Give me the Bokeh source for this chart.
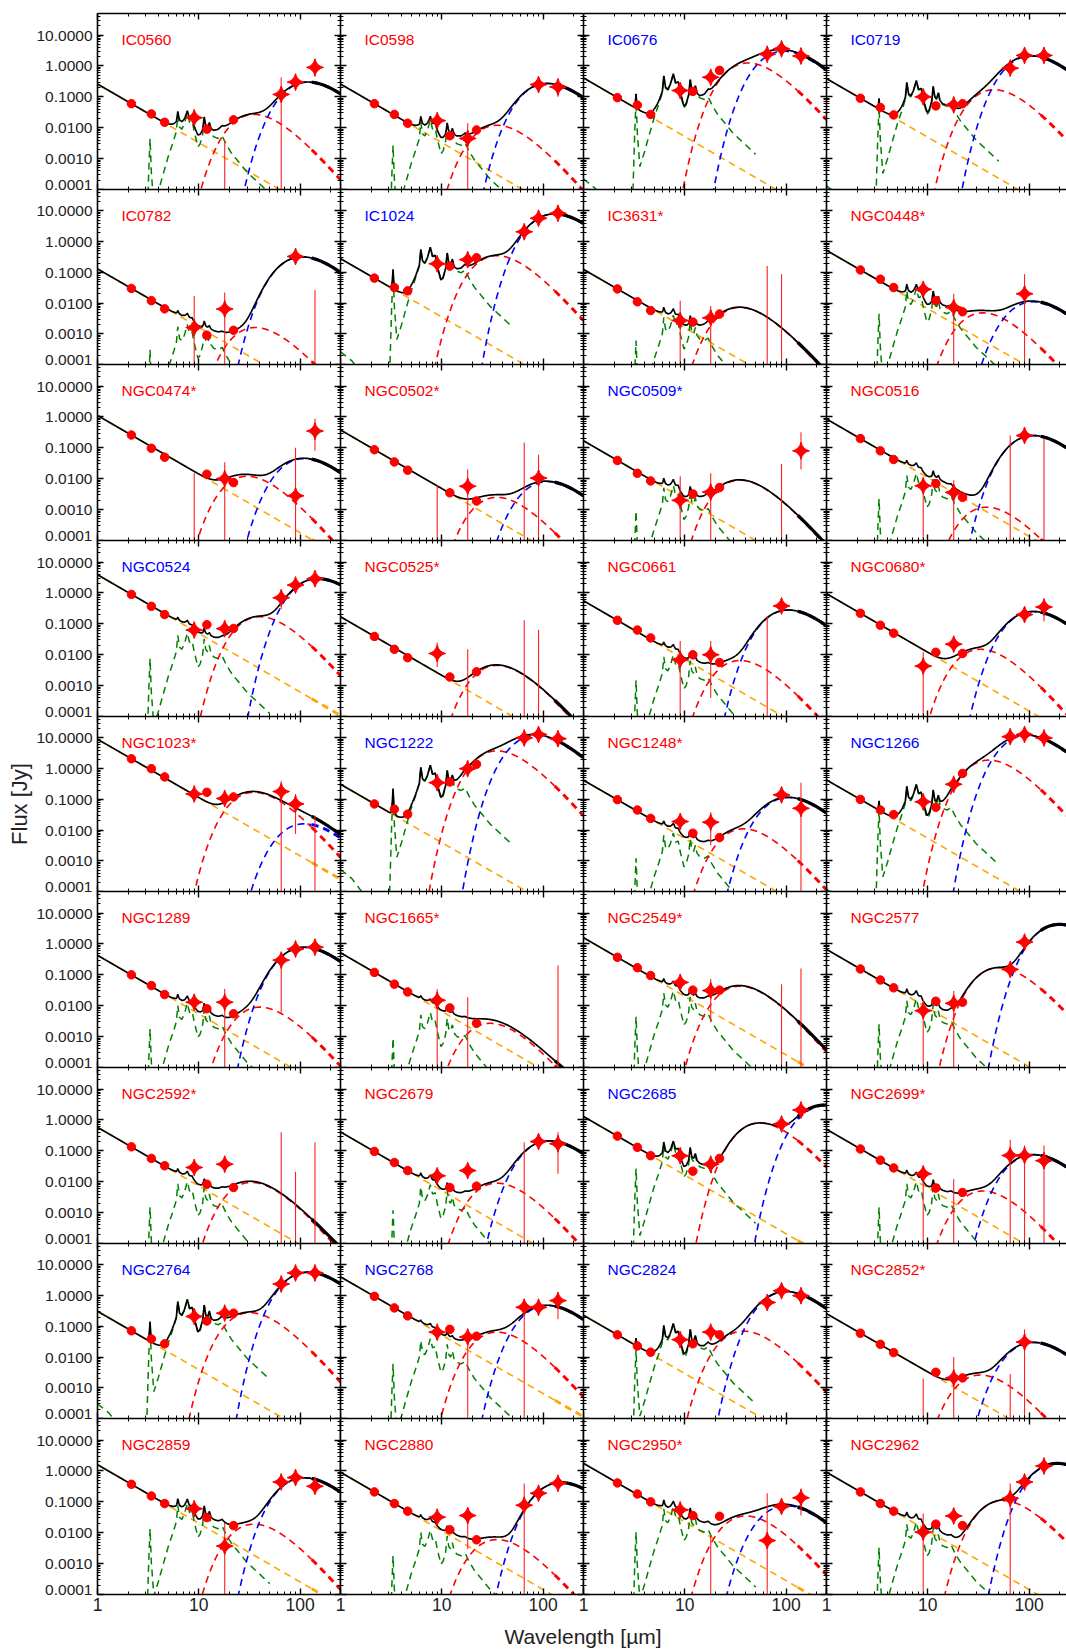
import numpy as np
from bokeh.plotting import figure
from bokeh.models import (Range1d, FixedTicker, PrintfTickFormatter, LogAxis, Label, Div,
                          CustomJSTickFormatter)
from bokeh.layouts import row, column
from bokeh.embed import file_html
from bokeh.resources import INLINE

FONT = "Liberation Sans"

# ---------------- data ----------------
NAMES = ["IC0560", "IC0598", "IC0676", "IC0719",
         "IC0782", "IC1024", "IC3631*", "NGC0448*",
         "NGC0474*", "NGC0502*", "NGC0509*", "NGC0516",
         "NGC0524", "NGC0525*", "NGC0661", "NGC0680*",
         "NGC1023*", "NGC1222", "NGC1248*", "NGC1266",
         "NGC1289", "NGC1665*", "NGC2549*", "NGC2577",
         "NGC2592*", "NGC2679", "NGC2685", "NGC2699*",
         "NGC2764", "NGC2768", "NGC2824", "NGC2852*",
         "NGC2859", "NGC2880", "NGC2950*", "NGC2962"]
BLUE_NAMES = ["IC0676", "IC0719", "IC1024", "NGC0509*", "NGC0524", "NGC1222",
              "NGC1266", "NGC2685", "NGC2764", "NGC2768", "NGC2824"]

# stellar (orange) component: flux at 1 micron [Jy], power-law slope
STELLAR_1UM = [0.26, 0.26, 0.41, 0.39,
               0.13, 0.28, 0.125, 0.52,
               1.12, 0.38, 0.17, 0.86,
               3.9, 0.17, 0.56, 0.95,
               9.1, 0.31, 0.42, 0.43,
               0.43, 0.52, 1.6, 0.67,
               0.58, 0.41, 1.3, 0.5,
               0.31, 4.1, 0.23, 0.26,
               1.6, 0.91, 1.77, 0.91]
STELLAR_SLOPE = -1.9

# PAH (green) component: height of the 7.7 micron feature [Jy]
PAH_PEAK = [0.03, 0.018, 0.55, 0.33,
            0.002, 0.65, 0.004, 0.03,
            0.0, 0.0, 0.006, 0.015,
            0.05, 0.0, 0.01, 0.0,
            0.0, 1.3, 0.008, 0.3,
            0.012, 0.006, 0.03, 0.017,
            0.01, 0.008, 0.18, 0.01,
            0.75, 0.04, 0.12, 0.0,
            0.09, 0.012, 0.07, 0.022]
PAH_LAM = [1.0, 1.3, 1.6, 2.0, 2.6, 3.0, 3.2, 3.3, 3.4, 3.6,
           4.0, 4.5, 5.0, 5.5, 6.0, 6.2, 6.45, 6.8, 7.2, 7.7,
           8.1, 8.6, 9.0, 9.8, 10.3, 10.9, 11.3, 11.7, 12.2, 12.7,
           13.2, 14.0, 15.5, 17.0, 18.5, 21.0, 25.0, 30.0, 40.0, 50.0]
PAH_REL = [4e-4, 2e-4, 8e-5, 3e-5, 1.2e-5, 1e-5, 0.012, 0.15, 0.012, 0.001,
           0.003, 0.012, 0.04, 0.1, 0.25, 0.85, 0.35, 0.3, 0.45, 1.0,
           0.5, 0.55, 0.25, 0.08, 0.1, 0.2, 0.65, 0.3, 0.25, 0.4,
           0.22, 0.17, 0.15, 0.18, 0.1, 0.05, 0.025, 0.012, 0.005, 0.0025]

# warm dust (red): peak wavelength [um] and peak flux [Jy]
WARM_LAM = [35, 35, 42, 45,
            36, 35, 35, 35,
            30, 35, 35, 38,
            40, 35, 35, 33,
            35, 35, 38, 40,
            40, 30, 35, 50,
            33, 35, 55, 35,
            32, 35, 38, 33,
            35, 35, 40, 55]
WARM_JY = [0.027, 0.012, 1.25, 0.17,
           0.0016, 0.35, 0.0072, 0.0048,
           0.012, 0.0025, 0.009, 0.0012,
           0.17, 0.0045, 0.0065, 0.015,
           0.17, 3.8, 0.011, 1.9,
           0.009, 0.0027, 0.043, 0.17,
           0.0095, 0.009, 0.8, 0.005,
           0.28, 0.065, 0.07, 0.0026,
           0.019, 0.006, 0.035, 0.11]
# cold dust (blue): peak wavelength [um] and peak flux [Jy] (0 = no component)
COLD_LAM = [120, 110, 95, 105,
            105, 130, 100, 110,
            110, 110, 100, 110,
            150, 100, 105, 110,
            110, 85, 105, 95,
            110, 100, 100, 200,
            100, 115, 240, 110,
            120, 110, 100, 110,
            110, 150, 100, 190]
COLD_JY = [0.3, 0.27, 3.0, 2.1,
           0.32, 8.0, 0.0, 0.011,
           0.045, 0.008, 0.0, 0.25,
           2.9, 0.0, 0.28, 0.25,
           0.016, 12.0, 0.115, 12.0,
           0.78, 0.0, 0.0, 4.3,
           0.0, 0.21, 3.0, 0.075,
           5.8, 0.48, 1.35, 0.03,
           0.6, 0.42, 0.075, 1.75]

# near/mid-IR photometry (circles)
PHOT_BANDS = [2.16, 3.4, 4.6, 12.0, 22.0]
PHOT_JY = [[0.06, 0.028, 0.015, 0.009, 0.018],
           [0.06, 0.027, 0.014, 0.0055, 0.0085],
           [0.094, 0.054, 0.027, 0.15, 0.72],
           [0.09, 0.045, 0.026, 0.051, 0.06],
           [0.03, 0.012, 0.0065, 0.0009, 0.0013],
           [0.065, 0.032, 0.025, 0.16, 0.3],
           [0.029, 0.011, 0.0057, 0.0024, 0.0044],
           [0.12, 0.06, 0.032, 0.012, 0.0052],
           [0.26, 0.097, 0.05, 0.014, 0.0075],
           [0.087, 0.035, 0.019, 0.0035, 0.0019],
           [0.039, 0.015, 0.0085, 0.0032, 0.0052],
           [0.2, 0.08, 0.042, 0.007, 0.0025],
           [0.9, 0.37, 0.2, 0.094, 0.071],
           [0.039, 0.015, 0.008, 0.0019, 0.0028],
           [0.13, 0.063, 0.035, 0.01, 0.0056],
           [0.22, 0.09, 0.05, 0.012, 0.011],
           [2.1, 1.0, 0.54, 0.17, 0.12],
           [0.071, 0.048, 0.033, 0.37, 1.4],
           [0.098, 0.045, 0.024, 0.0079, 0.0057],
           [0.1, 0.045, 0.032, 0.055, 0.7],
           [0.1, 0.045, 0.023, 0.008, 0.0055],
           [0.12, 0.05, 0.028, 0.0085, 0.0027],
           [0.37, 0.17, 0.095, 0.032, 0.032],
           [0.155, 0.068, 0.038, 0.014, 0.013],
           [0.135, 0.057, 0.033, 0.0083, 0.0065],
           [0.096, 0.042, 0.023, 0.0065, 0.0072],
           [0.3, 0.13, 0.07, 0.022, 0.057],
           [0.115, 0.05, 0.028, 0.0063, 0.0045],
           [0.072, 0.039, 0.027, 0.15, 0.27],
           [0.95, 0.4, 0.22, 0.08, 0.048],
           [0.053, 0.023, 0.0144, 0.027, 0.053],
           [0.06, 0.026, 0.014, 0.0032, 0.0021],
           [0.37, 0.155, 0.088, 0.031, 0.017],
           [0.21, 0.088, 0.05, 0.0125, 0.0059],
           [0.41, 0.18, 0.1, 0.036, 0.034],
           [0.21, 0.088, 0.05, 0.019, 0.017]]

# AKARI-like photometry (stars) and their error bars
STAR_BANDS = [9.0, 18.0, 65.0, 90.0, 140.0]
N = None
STAR_JY = [[0.021, N, 0.12, 0.3, 0.9],
           [0.017, 0.0045, N, 0.25, 0.21],
           [0.16, 0.43, 2.4, 3.6, 2.1],
           [0.1, 0.055, 0.85, 2.2, 2.2],
           [0.0016, 0.0064, N, 0.33, N],
           [0.19, 0.26, 2.1, 5.8, 8.4],
           [0.0027, 0.0033, N, N, N],
           [0.028, 0.0072, N, 0.02, N],
           [N, 0.01, N, 0.0028, 0.35],
           [N, 0.0057, N, 0.0105, N],
           [0.002, 0.0037, N, N, 0.08],
           [0.0059, 0.0036, N, 0.25, N],
           [0.063, 0.07, 0.7, 1.8, 2.9],
           [0.011, N, N, N, N],
           [0.0069, 0.01, N, 0.38, N],
           [0.0043, 0.022, N, 0.2, 0.35],
           [0.15, 0.107, 0.18, 0.071, N],
           [0.35, 1.0, 10.0, 13.0, 9.5],
           [0.019, 0.018, N, 0.14, 0.051],
           [0.083, 0.31, 11.0, 13.0, 10.0],
           [0.013, 0.013, 0.3, 0.69, 0.79],
           [0.015, N, N, N, N],
           [0.057, 0.031, N, N, N],
           [0.0069, 0.012, 0.15, 1.15, N],
           [0.029, 0.037, N, N, N],
           [0.0155, 0.023, N, 0.2, 0.17],
           [0.069, 0.037, N, 0.74, 2.1],
           [0.018, N, 0.071, 0.071, 0.048],
           [0.21, 0.27, 2.4, 5.5, 5.5],
           [0.065, 0.045, 0.42, 0.42, 0.69],
           [0.037, 0.065, 0.6, 1.45, 1.0],
           [N, 0.0021, N, 0.031, N],
           [0.06, 0.0037, 0.44, 0.61, 0.32],
           [0.032, 0.036, 0.078, 0.19, 0.4],
           [0.055, N, 0.0056, 0.071, 0.135],
           [0.0105, 0.035, 0.13, 0.44, 1.45]]
BAR_LO = [[N, 1e-5, 1e-5, N, 0.45],
          [N, 1e-5, N, N, 0.1],
          [N, N, N, N, N],
          [N, N, N, N, N],
          [1e-5, 1e-5, N, N, 1e-5],
          [N, N, N, N, N],
          [1e-5, 1e-5, 1e-5, 1e-5, N],
          [N, 1e-5, N, 1e-5, N],
          [1e-5, 1e-5, N, 1e-5, 0.08],
          [1e-5, 1e-5, 1e-5, 1e-5, N],
          [1e-5, 1e-5, N, 1e-5, 0.02],
          [1e-5, 1e-5, 1e-5, N, 1e-5],
          [N, N, 0.3, N, N],
          [0.004, 1e-5, 1e-5, 1e-5, N],
          [1e-5, 4e-4, 1e-5, N, N],
          [1e-5, N, N, N, 0.12],
          [N, N, 1e-5, 0.0074, 1e-5],
          [N, N, N, N, N],
          [N, 0.0032, N, N, 1e-5],
          [N, N, N, N, N],
          [N, 1e-5, 0.006, N, N],
          [1e-5, 1e-5, N, N, 1e-5],
          [N, 0.0029, N, 1e-5, 1e-5],
          [1e-5, 1e-5, N, N, N],
          [N, N, 1e-5, 1e-5, 1e-5],
          [N, N, 1e-5, N, 0.018],
          [N, 0.02, N, N, N],
          [1e-5, 1e-5, 1e-5, 1e-5, 1e-5],
          [N, N, N, N, N],
          [N, 1e-5, 1e-5, N, 0.17],
          [N, N, N, N, N],
          [1e-5, 1e-5, 1e-5, 1e-5, N],
          [N, 1e-5, N, N, 0.18],
          [N, 0.003, 1e-5, N, N],
          [N, 1e-5, 1e-5, N, 0.036],
          [1e-5, N, 1e-5, N, N]]
BAR_HI = [[N, 0.004, 0.42, N, 1.7],
          [N, 0.014, N, N, 0.38],
          [N, N, N, N, N],
          [N, N, N, N, N],
          [0.017, 0.022, N, N, 0.026],
          [N, N, N, N, N],
          [0.012, 0.008, 0.16, 0.087, N],
          [N, 0.02, N, 0.087, N],
          [0.015, 0.034, N, 0.1, 0.87],
          [0.006, 0.02, 0.15, 0.06, N],
          [0.012, 0.015, N, 0.03, 0.32],
          [0.0087, 0.009, 0.25, N, 0.2],
          [N, N, 1.2, N, N],
          [0.025, 0.015, 0.13, 0.064, N],
          [0.028, 0.028, 0.18, N, N],
          [0.012, N, N, N, 0.45],
          [N, N, 0.4, 0.15, 0.03],
          [N, N, N, N, N],
          [N, 0.038, N, N, 0.35],
          [N, N, N, N, N],
          [N, 0.035, 0.5, N, N],
          [0.035, 0.019, N, N, 0.2],
          [N, 0.074, N, 0.05, 0.16],
          [0.015, 0.03, N, N, N],
          [N, N, 0.4, 0.021, 0.19],
          [N, N, 0.19, N, 0.4],
          [N, 0.06, N, N, N],
          [0.03, 0.012, 0.23, 0.15, 0.15],
          [N, N, N, N, N],
          [N, 0.06, 0.69, N, 1.3],
          [N, N, N, N, N],
          [0.002, 0.01, 0.0028, 0.08, N],
          [N, 0.021, N, N, 0.65],
          [N, 0.06, 0.39, N, N],
          [N, 0.0081, 0.19, N, 0.27],
          [0.042, N, 0.39, N, N]]

Y_MAJOR = [1e-4, 1e-3, 1e-2, 1e-1, 1.0, 10.0]
X_MAJOR = [1, 10, 100]

# ---------------- layout (the page template has no body margin) ----------------
NROWS, NCOLS = 9, 4
ROW_H = [176, 175, 176, 176, 175, 176, 176, 175, 176]
COL_W = [243, 243, 243, 240]
LEFT_BORDER, TOP_BORDER, BOTTOM_BORDER = 97, 13, 24
OVERHANG_Y = 16    # room below left panels for the raised "0.0001"; overlapped by next row
OVERHANG_X = 10    # room left of bottom panels for the "1" at a shared edge
X_FULL = 250.0
PX_PER_DEC = COL_W[0] / np.log10(X_FULL)
X_HI = [X_FULL, X_FULL, X_FULL, 10 ** (COL_W[3] / PX_PER_DEC)]
Y_RANGE = (1e-4, 50.0)
THICK_FROM = 130.0

Y_MINOR = [k * 10.0 ** e for e in range(-4, 2) for k in range(2, 10)]
X_MINOR = [k * 10.0 ** e for e in range(0, 3) for k in range(2, 10)]

C_ORANGE, C_GREEN, C_RED, C_BLUE = "#FFA500", "#008000", "#FF0000", "#0000FF"
DASH = "7 5"


def peak_x(beta):
    x = 3.0 + beta
    for _ in range(100):
        x = (3.0 + beta) * (1.0 - np.exp(-x))
    return x


def grey_body(lam, lam_pk, f_pk, beta):
    if f_pk <= 0:
        return np.zeros_like(lam)
    x0 = peak_x(beta)
    x = x0 * lam_pk / lam
    with np.errstate(over="ignore", divide="ignore", invalid="ignore"):
        shape = (lam / lam_pk) ** (-(3.0 + beta)) * np.expm1(x0) / np.expm1(x)
    return f_pk * np.nan_to_num(shape, nan=0.0, posinf=0.0)


def pah_curve(lam, amp):
    out = np.full(lam.shape, np.nan)
    if amp <= 0:
        return out
    pl = np.array(PAH_LAM)
    m = (lam >= pl[0]) & (lam <= pl[-1])
    out[m] = amp * 10 ** np.interp(np.log10(lam[m]), np.log10(pl), np.log10(PAH_REL))
    return out


def style_axis(ax, major, minor, labelled, font_size, kind):
    ax.ticker = FixedTicker(ticks=major, minor_ticks=minor)
    ax.axis_line_color = "black"
    ax.axis_line_width = 1.6
    ax.major_tick_line_color = "black"
    ax.minor_tick_line_color = "black"
    ax.major_tick_line_width = 1.4
    ax.minor_tick_line_width = 1.0
    ax.major_tick_in = 6
    ax.major_tick_out = 0
    ax.minor_tick_in = 3
    ax.minor_tick_out = 0
    if labelled:
        ax.major_label_text_font = FONT
        ax.major_label_text_font_size = font_size
        ax.major_label_text_color = "#222222"
        if kind == "y":
            ax.major_label_standoff = 5
            ax.formatter = PrintfTickFormatter(format="%.4f")
            # the lowest label sits just above the panel edge, as in the reference
            ax.major_label_text_line_height = 0.62
            ax.major_label_overrides = {1e-4: "0.0001\n\u00a0"}
        else:
            ax.major_label_standoff = 3
            ax.formatter = PrintfTickFormatter(format="%d")
    else:
        ax.formatter = CustomJSTickFormatter(code="return ''")
        ax.major_label_text_font_size = "0px"
        ax.major_label_standoff = 0


def split_line(p, lam, y, color, width, thick, dash=None):
    kw = {} if dash is None else {"line_dash": dash}
    a = lam <= THICK_FROM
    b = lam >= THICK_FROM
    p.line(lam[a], y[a], line_color=color, line_width=width, **kw)
    if b.any():
        p.line(lam[b], y[b], line_color=color, line_width=thick, **kw)


def make_panel(i, r, c):
    xhi = X_HI[c]
    fw, fh = COL_W[c], ROW_H[r]
    last_row = (r == NROWS - 1)
    mb_left = LEFT_BORDER if c == 0 else (OVERHANG_X if last_row else 0)
    mb_bottom = BOTTOM_BORDER if last_row else (OVERHANG_Y if c == 0 else 0)
    margin = (0, 0, -OVERHANG_Y if (c == 0 and not last_row) else 0,
              -OVERHANG_X if (c > 0 and last_row) else 0)
    p = figure(x_axis_type="log", y_axis_type="log",
               x_range=Range1d(1.0, xhi), y_range=Range1d(*Y_RANGE),
               frame_width=fw, frame_height=fh,
               min_border_left=mb_left,
               min_border_right=0,
               min_border_top=TOP_BORDER if r == 0 else 0,
               min_border_bottom=mb_bottom,
               margin=margin,
               output_backend="svg", toolbar_location=None)
    p.outline_line_color = None
    p.xgrid.visible = False
    p.ygrid.visible = False
    p.background_fill_color = "white"
    p.border_fill_color = None

    # axes
    left_lab = (c == 0)
    style_axis(p.yaxis[0], Y_MAJOR, Y_MINOR, left_lab, "15.5px", "y")
    style_axis(p.xaxis[0], X_MAJOR, X_MINOR, last_row, "17.5px", "x")
    top = LogAxis()
    style_axis(top, X_MAJOR, X_MINOR, False, "0px", "x")
    p.add_layout(top, "above")
    if c < NCOLS - 1:
        right = LogAxis()
        style_axis(right, Y_MAJOR, Y_MINOR, False, "0px", "y")
        p.add_layout(right, "right")

    if left_lab and r == 4:
        ax = p.yaxis[0]
        ax.axis_label = "Flux [Jy]"
        ax.axis_label_text_font = FONT
        ax.axis_label_text_font_size = "22px"
        ax.axis_label_text_font_style = "normal"
        ax.axis_label_text_color = "#222222"
        ax.axis_label_standoff = 1

    # model curves
    lam = np.unique(np.concatenate([np.logspace(0, np.log10(xhi), 700),
                                    np.array([v for v in PAH_LAM if v <= xhi]),
                                    np.array([THICK_FROM])]))
    stellar = STELLAR_1UM[i] * lam ** STELLAR_SLOPE
    pah = pah_curve(lam, PAH_PEAK[i])
    warm = grey_body(lam, WARM_LAM[i], WARM_JY[i], 2.0)
    cold = grey_body(lam, COLD_LAM[i], COLD_JY[i], 1.5)
    total = stellar + np.nan_to_num(pah) + warm + cold
    fl = 1e-7

    split_line(p, lam, np.maximum(stellar, fl), C_ORANGE, 1.6, 2.8, DASH)
    if PAH_PEAK[i] > 0:
        p.line(lam, np.maximum(pah, fl), line_color=C_GREEN, line_width=1.5, line_dash=DASH)
    split_line(p, lam, np.maximum(warm, fl), C_RED, 1.6, 2.9, DASH)
    if COLD_JY[i] > 0:
        split_line(p, lam, np.maximum(cold, fl), C_BLUE, 1.6, 2.9, DASH)
    split_line(p, lam, np.maximum(total, fl), "black", 1.7, 3.2)

    # error bars
    bx, blo, bhi = [], [], []
    for b, lo, hi in zip(STAR_BANDS, BAR_LO[i], BAR_HI[i]):
        if lo is not None and hi is not None:
            bx.append(b); blo.append(lo); bhi.append(hi)
    if bx:
        p.segment(x0=bx, y0=blo, x1=bx, y1=bhi, line_color="#FF2020", line_width=1.1)

    # photometry
    p.scatter(PHOT_BANDS, PHOT_JY[i], marker="circle", size=8.5,
              fill_color=C_RED, line_color=C_RED)
    sx = [b for b, v in zip(STAR_BANDS, STAR_JY[i]) if v is not None]
    sy = [v for v in STAR_JY[i] if v is not None]
    if sx:
        p.scatter(sx, sy, marker="square_pin", size=12, angle=np.pi / 4,
                  fill_color=C_RED, line_color=C_RED)

    # name
    p.add_layout(Label(x=24, y=fh - 26, x_units="screen", y_units="screen", text=NAMES[i],
                       text_color=C_BLUE if NAMES[i] in BLUE_NAMES else C_RED,
                       text_font=FONT, text_font_size="15.5px", text_baseline="middle",
                       text_align="left"))
    return p


rows = []
for r in range(NROWS):
    figs = [make_panel(r * NCOLS + c, r, c) for c in range(NCOLS)]
    rows.append(row(*figs, spacing=0))

xlabel = Div(text=('<div style="margin-left:433px;width:300px;padding-top:6px;text-align:center;'
                   'font-family:\'Liberation Sans\',Arial,sans-serif;font-size:21px;'
                   'line-height:26px;color:#222222;">Wavelength [&micro;m]</div>'),
             width=1066, height=32, margin=(0, 0, 0, 0))

layout = column(*rows, xlabel, spacing=0)

with open("out.html", "w") as f:
    f.write(file_html(layout, INLINE, title="SED grid"))
